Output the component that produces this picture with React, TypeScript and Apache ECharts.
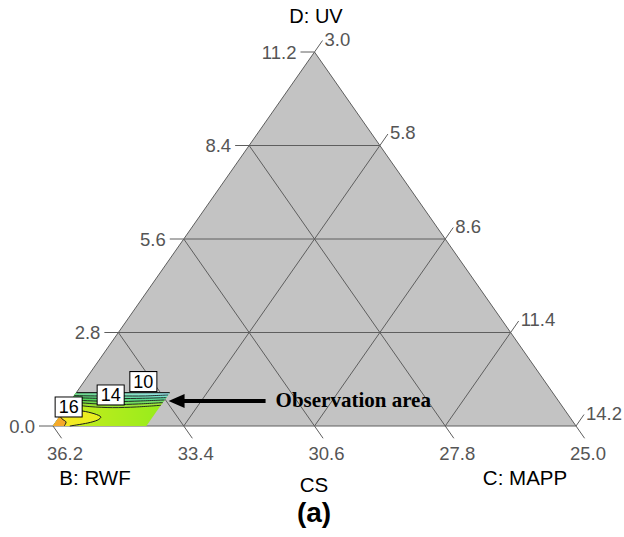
import React, { useEffect, useRef } from "react";
import * as echarts from "echarts";

// Ternary axes (mixture components, total = 39.2)
const B_TICKS = [36.2, 33.4, 30.6, 27.8, 25.0]; // bottom axis, B: RWF
const C_TICKS = [3.0, 5.8, 8.6, 11.4, 14.2]; // right axis, C: MAPP
const D_TICKS = [0.0, 2.8, 5.6, 8.4, 11.2]; // left axis, D: UV
const AXIS_TITLES = ["D: UV", "B: RWF", "CS", "C: MAPP"];
const PANEL_TITLE = "(a)";

// observed design region in (C, D)
const REGION_C = [3.0, 5.0];
const REGION_D = [0.0, 1.0];

// contour lines of the response surface, sampled at these C values -> D values
const CONTOUR_C = [3.0, 3.5, 4.0, 4.5, 5.0];
const CONTOUR_LEVELS = [14, 13, 12, 11, 10];
const CONTOUR_D = [
  [0.66, 0.58, 0.55, 0.57, 0.62],
  [0.72, 0.67, 0.64, 0.66, 0.70],
  [0.78, 0.75, 0.73, 0.75, 0.78],
  [0.85, 0.83, 0.82, 0.83, 0.85],
  [0.91, 0.9, 0.9, 0.9, 0.93],
];
// closed-ish contours near the B vertex, as (C, D)
const CONTOUR_16 = [
  [3.0, 0.48], [3.4, 0.45], [3.72, 0.36], [3.89, 0.27], [3.87, 0.18], [3.7, 0.09], [3.36, 0.0],
];
const CONTOUR_17 = [
  [3.0, 0.3], [3.09, 0.21], [3.22, 0.12], [3.24, 0.0],
];
const LABEL_TEXT = ["10", "14", "16"];
const LABEL_C = [4.27, 3.77, 3.05];
const LABEL_D = [1.33, 0.93, 0.57];
const NOTE_TEXT = "Observation area";
const NOTE_C = 5.1;
const NOTE_D = 0.75;

const TOTAL = B_TICKS[0] + C_TICKS[0] + D_TICKS[0];
const C_MIN = C_TICKS[0];
const D_MIN = D_TICKS[0];
const RANGE = D_TICKS[D_TICKS.length - 1] - D_TICKS[0];

const toXY = (C: number, D: number): [number, number] => {
  const c = (C - C_MIN) / RANGE;
  const d = (D - D_MIN) / RANGE;
  return [c + d / 2, d];
};

const BAND_COLORS: [string, string][] = [
  ["#96dc2e", "#9eea3e"],
  ["#6cd640", "#74e070"],
  ["#52d04e", "#64e0a8"],
  ["#58d26a", "#78e4d4"],
  ["#6ad888", "#9aeaf0"],
];

export default function App() {
  const ref = useRef<HTMLDivElement>(null);
  useEffect(() => {
    const chart = echarts.init(ref.current!, null, { renderer: "svg" });
    const font = "Liberation Sans, Arial, sans-serif";
    const LINE = "#5e5e5e";
    const TICK_COLOR = "#555";
    const P = (api: any, C: number, D: number): number[] => api.coord(toXY(C, D));
    const grad = (a: string, b: string) =>
      new echarts.graphic.LinearGradient(0, 0, 1, 0, [
        { offset: 0, color: a },
        { offset: 1, color: b },
      ]);

    const Cmax = C_MIN + RANGE;
    const gridLines: number[][][] = [];
    D_TICKS.slice(1, -1).forEach((D) => gridLines.push([[C_MIN, D], [Cmax - D, D]]));
    C_TICKS.slice(1, -1).forEach((C) => gridLines.push([[C, D_MIN], [C, Cmax - C]]));
    B_TICKS.slice(1, -1).forEach((B) => {
      const s = TOTAL - B;
      gridLines.push([[s, D_MIN], [C_MIN, s - C_MIN]]);
    });

    const base = {
      type: "custom",
      coordinateSystem: "cartesian2d",
      data: [[0, 0]],
      clip: false,
      silent: true,
      z: 2,
    };

    const title = (x: number, y: number, text: string, size: number, bold = false) => ({
      type: "text",
      x,
      y,
      style: {
        text,
        fontSize: size,
        fontWeight: bold ? "bold" : "normal",
        fill: "#000",
        fontFamily: font,
        align: "center",
        verticalAlign: "middle",
      },
    });

    const option: any = {
      animation: false,
      grid: { left: 53, right: 48, top: 52, bottom: 111 },
      xAxis: { type: "value", min: 0, max: 1, show: false },
      yAxis: { type: "value", min: 0, max: 1, show: false },
      series: [
        {
          ...base,
          renderItem: (_p: any, api: any) => {
            const pts = [P(api, C_MIN, D_MIN), P(api, Cmax, D_MIN), P(api, C_MIN, D_MIN + RANGE)];
            const lines = gridLines.map((l) => {
              const a = P(api, l[0][0], l[0][1]);
              const b = P(api, l[1][0], l[1][1]);
              return {
                type: "line",
                shape: { x1: a[0], y1: a[1], x2: b[0], y2: b[1] },
                style: { stroke: LINE, lineWidth: 1 },
              };
            });
            return {
              type: "group",
              children: [
                { type: "polygon", shape: { points: pts }, style: { fill: "#c3c3c3", stroke: LINE, lineWidth: 1 } },
                ...lines,
              ],
            };
          },
        },
        {
          ...base,
          z: 3,
          renderItem: (_p: any, api: any) => {
            const [c0, c1] = REGION_C;
            const [d0, d1] = REGION_D;
            const region = [P(api, c0, d0), P(api, c1, d0), P(api, c1, d1), P(api, c0, d1)];
            const children: any[] = [
              { type: "polygon", shape: { points: region }, style: { fill: grad("#cdec1c", "#93ec1c") } },
            ];
            CONTOUR_D.forEach((row, k) => {
              const line = CONTOUR_C.map((c, i) => P(api, c, row[i]));
              children.push({
                type: "polygon",
                shape: { points: [...line, P(api, c1, d1), P(api, c0, d1)], smooth: 0 },
                style: { fill: grad(BAND_COLORS[k][0], BAND_COLORS[k][1]) },
              });
            });
            const y16 = CONTOUR_16.map((p) => P(api, p[0], p[1]));
            children.push({
              type: "polygon",
              shape: { points: [...y16, P(api, c0, d0)] },
              style: { fill: grad("#fbe828", "#e6f01e") },
            });
            const y17 = CONTOUR_17.map((p) => P(api, p[0], p[1]));
            children.push({
              type: "polygon",
              shape: { points: [...y17, P(api, c0, d0)] },
              style: { fill: "#f5a92a" },
            });
            CONTOUR_D.forEach((row) => {
              children.push({
                type: "polyline",
                shape: { points: CONTOUR_C.map((c, i) => P(api, c, row[i])), smooth: 0.3 },
                style: { stroke: "#1a1a1a", lineWidth: 0.9, fill: "none" },
              });
            });
            [y16, y17].forEach((pts) =>
              children.push({
                type: "polyline",
                shape: { points: pts, smooth: 0.3 },
                style: { stroke: "#1a1a1a", lineWidth: 1, fill: "none" },
              })
            );
            const t0 = P(api, c0, d1);
            const t1 = P(api, c1, d1);
            children.push({
              type: "line",
              shape: { x1: t0[0], y1: t0[1], x2: t1[0], y2: t1[1] },
              style: { stroke: "#222", lineWidth: 1.2 },
            });
            return { type: "group", children };
          },
        },
        {
          ...base,
          z: 4,
          renderItem: (_p: any, api: any) => {
            const bv = P(api, C_MIN, D_MIN);
            const cv = P(api, Cmax, D_MIN);
            const dv = P(api, C_MIN, D_MIN + RANGE);
            const unit = (a: number[], b: number[]) => {
              const dx = b[0] - a[0];
              const dy = b[1] - a[1];
              const n = Math.hypot(dx, dy);
              return [dx / n, dy / n];
            };
            const up = unit(bv, dv);
            const down = unit(dv, cv);
            const children: any[] = [];
            const txt = (x: number, y: number, text: string, align: string) => ({
              type: "text",
              x,
              y,
              style: { text, fill: TICK_COLOR, fontSize: 18.5, fontFamily: font, align, verticalAlign: "middle" },
            });
            D_TICKS.forEach((D) => {
              const p = P(api, C_MIN, D);
              children.push({ type: "line", shape: { x1: p[0], y1: p[1], x2: p[0] - 14, y2: p[1] }, style: { stroke: LINE, lineWidth: 1 } });
              children.push(txt(p[0] - 18, p[1], D.toFixed(1), "right"));
            });
            C_TICKS.forEach((C) => {
              const p = P(api, C, Cmax - C);
              const e = [p[0] + up[0] * 14, p[1] + up[1] * 14];
              children.push({ type: "line", shape: { x1: p[0], y1: p[1], x2: e[0], y2: e[1] }, style: { stroke: LINE, lineWidth: 1 } });
              children.push(txt(e[0] + 2, e[1] - 1.5, C.toFixed(1), "left"));
            });
            B_TICKS.forEach((B) => {
              const p = P(api, TOTAL - B - D_MIN, D_MIN);
              const e = [p[0] + down[0] * 15, p[1] + down[1] * 15];
              children.push({ type: "line", shape: { x1: p[0], y1: p[1], x2: e[0], y2: e[1] }, style: { stroke: LINE, lineWidth: 1 } });
              children.push(txt(p[0] + 12, p[1] + 27, B.toFixed(1), "center"));
            });
            return { type: "group", children };
          },
        },
        {
          ...base,
          z: 5,
          renderItem: (_p: any, api: any) => {
            const children: any[] = LABEL_TEXT.map((t, i) => {
              const p = P(api, LABEL_C[i], LABEL_D[i]);
              return {
                type: "text",
                x: p[0],
                y: p[1],
                style: {
                  text: t,
                  fill: "#000",
                  fontSize: 18,
                  fontFamily: font,
                  align: "center",
                  verticalAlign: "middle",
                  backgroundColor: "#fff",
                  borderColor: "#000",
                  borderWidth: 1,
                  padding: [1, 3, 0, 3],
                },
              };
            });
            const tip = P(api, NOTE_C, NOTE_D);
            children.push({
              type: "polygon",
              shape: { points: [tip, [tip[0] + 16, tip[1] - 7], [tip[0] + 16, tip[1] + 7]] },
              style: { fill: "#000" },
            });
            children.push({
              type: "line",
              shape: { x1: tip[0] + 14, y1: tip[1], x2: tip[0] + 97, y2: tip[1] },
              style: { stroke: "#000", lineWidth: 4 },
            });
            children.push({
              type: "text",
              x: tip[0] + 107,
              y: tip[1] - 1,
              style: {
                text: NOTE_TEXT,
                fill: "#000",
                fontSize: 21,
                fontWeight: "bold",
                fontFamily: "Liberation Serif, Times New Roman, serif",
                align: "left",
                verticalAlign: "middle",
              },
            });
            return { type: "group", children };
          },
        },
      ],
      graphic: [
        title(316, 16, AXIS_TITLES[0], 20),
        title(95, 477, AXIS_TITLES[1], 20.5),
        title(314, 484, AXIS_TITLES[2], 20.5),
        title(525, 477, AXIS_TITLES[3], 20.5),
        title(314, 512, PANEL_TITLE, 28, true),
      ],
    };
    chart.setOption(option);
    return () => chart.dispose();
  }, []);
  return <div ref={ref} style={{ position: "fixed", left: 0, top: 0, width: 624, height: 537, background: "#fff" }} />;
}
